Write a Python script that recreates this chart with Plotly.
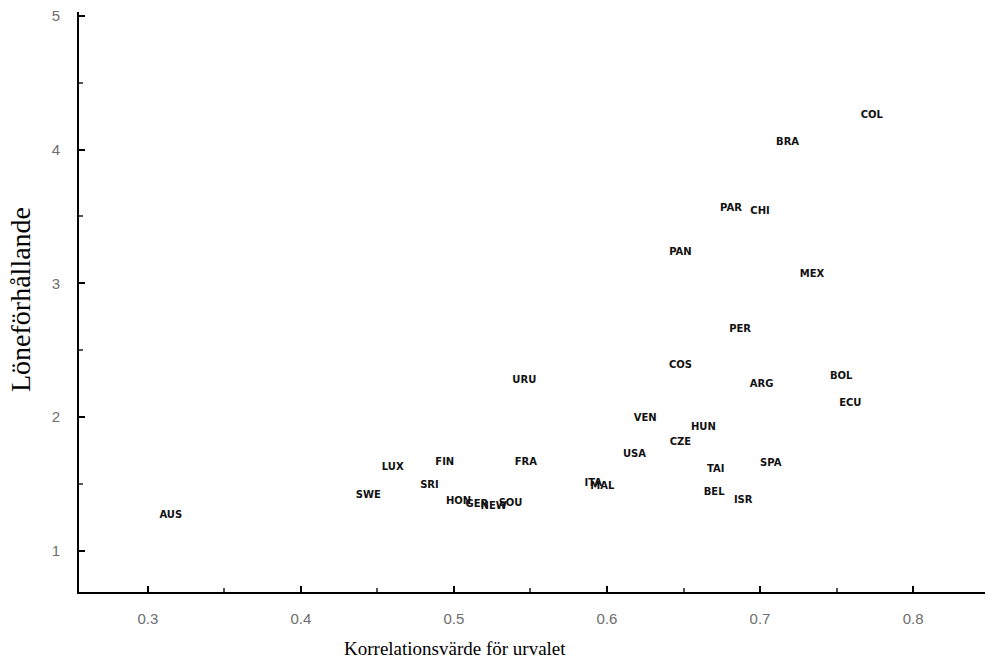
import plotly.graph_objects as go

labels = ["AUS", "SWE", "LUX", "SRI", "FIN", "FRA", "URU", "HON", "GER", "NEW", "SOU",
          "ITA", "MAL", "USA", "VEN", "HUN", "CZE", "COS", "TAI", "BEL", "ISR", "SPA",
          "ARG", "PER", "PAN", "PAR", "CHI", "MEX", "BOL", "ECU", "BRA", "COL"]
corr = [0.315, 0.444, 0.460, 0.484, 0.494, 0.547, 0.546, 0.503, 0.515, 0.526, 0.537,
        0.591, 0.597, 0.618, 0.625, 0.663, 0.648, 0.648, 0.671, 0.670, 0.689, 0.707,
        0.701, 0.687, 0.648, 0.681, 0.700, 0.734, 0.753, 0.759, 0.718, 0.773]
ratio = [1.261, 1.410, 1.620, 1.485, 1.660, 1.660, 2.270, 1.366, 1.345, 1.330, 1.355,
         1.500, 1.478, 1.716, 1.990, 1.918, 1.806, 2.388, 1.604, 1.433, 1.373, 1.649,
         2.246, 2.657, 3.231, 3.560, 3.537, 3.067, 2.299, 2.097, 4.052, 4.254]

x_ticks = [0.3, 0.4, 0.5, 0.6, 0.7, 0.8]
y_ticks = [1, 2, 3, 4, 5]

fig = go.Figure(go.Scatter(
    x=corr, y=ratio, mode="text", text=labels,
    textfont=dict(family="DejaVu Sans", size=10, color="#111111", weight="bold"),
    hoverinfo="skip"))

axis_common = dict(
    showgrid=False, zeroline=False, showline=True, linecolor="black", linewidth=2,
    ticks="inside", tickcolor="black", tickwidth=1.5, ticklen=6,
    tickfont=dict(family="Liberation Sans", size=15, color="#6e6e6e"),
)

fig.update_xaxes(range=[0.255, 0.847], tickvals=x_ticks,
                 ticktext=[f"{v:.1f}" for v in x_ticks],
                 minor=dict(ticks="inside", ticklen=4, dtick=0.05, tick0=0.25,
                            tickcolor="#555555", showgrid=False),
                 ticklabelstandoff=12, **axis_common)
fig.update_yaxes(range=[0.69, 5.03], tickvals=y_ticks,
                 ticktext=[str(v) for v in y_ticks],
                 minor=dict(ticks="inside", ticklen=4, dtick=0.5, tick0=0.5,
                            tickcolor="#555555", showgrid=False),
                 ticklabelstandoff=14, **axis_common)

fig.update_layout(
    width=987, height=664,
    margin=dict(l=79, r=2, t=12, b=72),
    paper_bgcolor="white", plot_bgcolor="white",
    showlegend=False,
    annotations=[
        dict(text="Korrelationsvärde för urvalet", xref="paper", yref="paper",
             x=(455 - 79) / 906, y=0, yshift=-56, showarrow=False,
             xanchor="center", yanchor="middle",
             font=dict(family="Liberation Serif", size=19, color="black")),
        dict(text="Löneförhållande", xref="paper", yref="paper",
             x=0, xshift=-59, y=(592 - 300) / 580, textangle=-90, showarrow=False,
             xanchor="center", yanchor="middle",
             font=dict(family="Liberation Serif", size=28, color="black")),
    ],
)

fig.write_html("out.html")
